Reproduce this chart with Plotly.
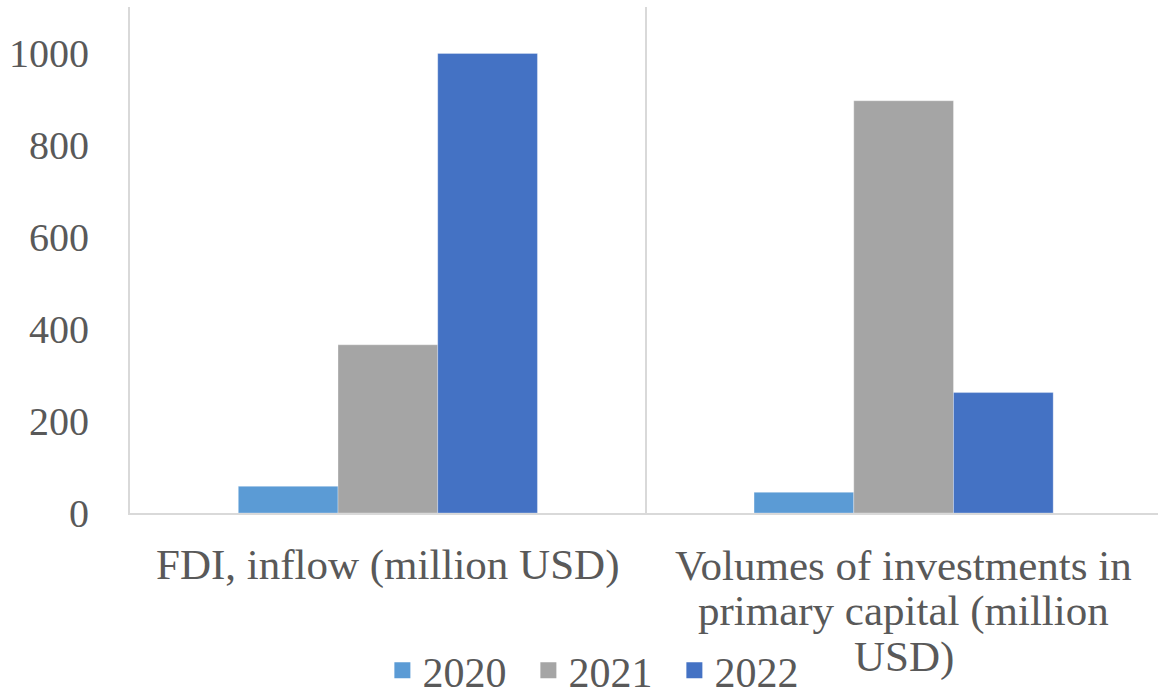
import plotly.graph_objects as go

# Chart data
categories = [
    "FDI, inflow (million USD)",
    "Volumes of investments in primary capital (million USD)",
]
category_lines = [
    ["FDI, inflow (million USD)"],
    ["Volumes of investments in", "primary capital (million", "USD)"],
]
years = ["2020", "2021", "2022"]
values_2020 = [58, 45]
values_2021 = [366, 897]
values_2022 = [1000, 262]
y_ticks = [0, 200, 400, 600, 800, 1000]
colors = ["#5B9BD5", "#A5A5A5", "#4472C4"]

series = list(zip(years, [values_2020, values_2021, values_2022], colors))

W, H = 1158, 692
left, top, bottom = 129.5, 7, 513.5
FONT = "Liberation Serif"
TXT = "#595959"
LINE = "#D9D9D9"

fig = go.Figure()
for name, vals, color in series:
    fig.add_trace(go.Bar(
        x=categories,
        y=vals,
        name=name,
        showlegend=False,
        marker=dict(color=color, line=dict(width=0.6, color="rgba(255,255,255,0.5)")),
    ))

# legend entries with larger square swatches
for name, vals, color in series:
    fig.add_trace(go.Scatter(
        x=[None], y=[None], mode="markers", name=name,
        marker=dict(symbol="square", size=20, color=color),
        hoverinfo="skip",
    ))

# category labels, one line per annotation for tighter line spacing
first_line_px = 566
line_step_px = 46
for cat, lines in zip(categories, category_lines):
    for i, txt in enumerate(lines):
        py = first_line_px + i * line_step_px
        fig.add_annotation(
            x=cat, xref="x",
            y=(bottom - py) / (bottom - top), yref="paper",
            yanchor="middle", xanchor="center",
            text=txt, showarrow=False,
            font=dict(family=FONT, color=TXT, size=43),
        )

plot_w = W - left
cat_px = 516.0
x_max = -0.5 + plot_w / cat_px

fig.update_layout(
    width=W, height=H,
    margin=dict(l=left, r=0, t=top, b=H - bottom, pad=0, autoexpand=False),
    paper_bgcolor="white", plot_bgcolor="white",
    barmode="group", bargap=0.42, bargroupgap=0,
    font=dict(family=FONT, color=TXT, size=42),
    showlegend=True,
    legend=dict(
        orientation="h",
        x=(382 - left) / plot_w, xanchor="left",
        y=(bottom - 671) / (bottom - top), yanchor="middle",
        entrywidth=101, entrywidthmode="pixels",
        font=dict(family=FONT, color=TXT, size=42),
        bgcolor="rgba(0,0,0,0)",
        itemclick=False,
    ),
    xaxis=dict(
        type="category",
        range=[-0.5, x_max],
        tickson="boundaries",
        ticks="", showgrid=True, gridcolor=LINE, gridwidth=1.5,
        showline=True, linecolor=LINE, linewidth=2,
        showticklabels=False,
        zeroline=False, fixedrange=True, automargin=False,
    ),
    yaxis=dict(
        range=[0, 1101],
        tickmode="array", tickvals=y_ticks,
        ticks="", showgrid=False, zeroline=False,
        showline=True, linecolor=LINE, linewidth=2,
        tickfont=dict(family=FONT, color=TXT, size=40),
        ticklabelstandoff=31,
        fixedrange=True, automargin=False,
    ),
)

fig.write_html("out.html", config={"displayModeBar": False})
